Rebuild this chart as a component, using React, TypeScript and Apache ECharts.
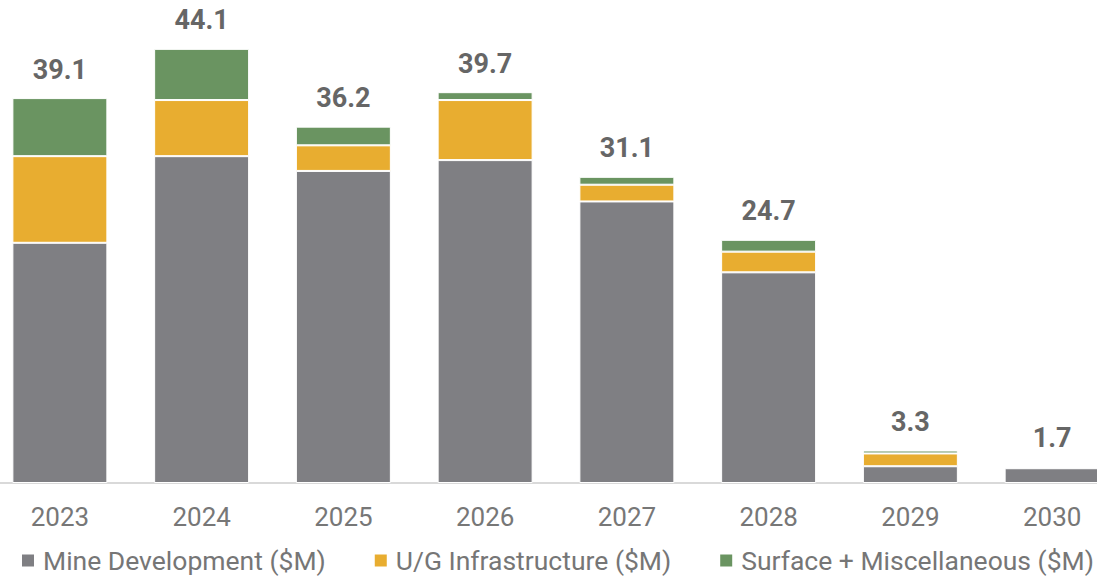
import React, { useEffect, useRef } from "react";
import * as echarts from "echarts";

const years = ["2023", "2024", "2025", "2026", "2027", "2028", "2029", "2030"];
const mineDevelopment = [24.4, 33.2, 31.7, 32.8, 28.6, 21.4, 1.7, 1.5];
const ugInfrastructure = [8.8, 5.7, 2.6, 6.1, 1.7, 2.1, 1.3, 0.1];
const surfaceMisc = [5.9, 5.2, 1.9, 0.8, 0.8, 1.2, 0.3, 0.1];
const totals = [39.1, 44.1, 36.2, 39.7, 31.1, 24.7, 3.3, 1.7];

export default function App() {
  const ref = useRef<HTMLDivElement>(null);
  useEffect(() => {
    if (!ref.current) return;
    const chart = echarts.init(ref.current, null, { renderer: "svg" });
    const font = "Roboto";
    const common = {
      type: "bar",
      stack: "total",
      barCategoryGap: "33%",
      itemStyle: { borderColor: "#ffffff", borderWidth: 1 },
    };
    chart.setOption({
      animation: false,
      textStyle: { fontFamily: font },
      grid: { left: 0, right: 0, top: 40, bottom: 94, containLabel: false },
      xAxis: {
        type: "category",
        data: years,
        axisLine: { lineStyle: { color: "#d9d9d9", width: 2 } },
        axisTick: { show: false },
        axisLabel: { color: "#777777", fontSize: 26, margin: 21, fontFamily: font },
      },
      yAxis: { type: "value", min: 0, max: 45, show: false, splitLine: { show: false } },
      legend: {
        left: 26,
        top: 542,
        itemWidth: 14,
        itemHeight: 14,
        itemGap: 47,
        icon: "rect",
        textStyle: { color: "#767676", fontSize: 26.5, fontFamily: font, padding: [0, 0, 0, 3] },
        data: ["Mine Development ($M)", "U/G Infrastructure ($M)", "Surface + Miscellaneous ($M)"],
      },
      series: [
        { ...common, name: "Mine Development ($M)", data: mineDevelopment, itemStyle: { ...common.itemStyle, color: "#7f7f83" } },
        { ...common, name: "U/G Infrastructure ($M)", data: ugInfrastructure, itemStyle: { ...common.itemStyle, color: "#e8ad30" } },
        {
          ...common,
          name: "Surface + Miscellaneous ($M)",
          data: surfaceMisc,
          itemStyle: { ...common.itemStyle, color: "#6a9461" },
          label: {
            show: true,
            position: "top",
            distance: 15,
            color: "#666666",
            fontWeight: "bold",
            fontSize: 27,
            fontFamily: font,
            formatter: (p: any) => totals[p.dataIndex].toFixed(1),
          },
        },
      ],
    });
    return () => chart.dispose();
  }, []);
  return (
    <div
      ref={ref}
      style={{ position: "fixed", left: -11, top: 0, width: 1134, height: 577, background: "#ffffff" }}
    />
  );
}
